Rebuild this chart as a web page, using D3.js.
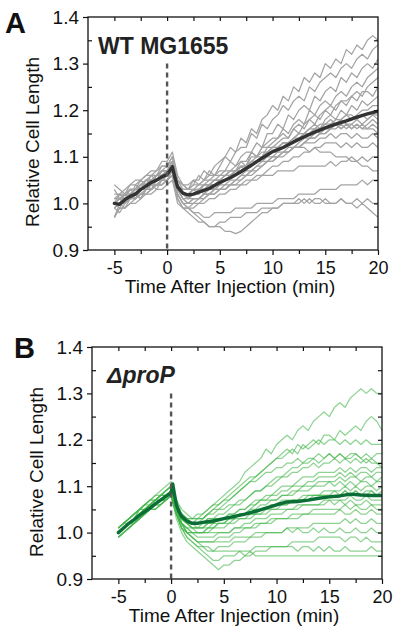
<!DOCTYPE html>
<html><head><meta charset="utf-8">
<script src="https://cdn.jsdelivr.net/npm/d3@7"></script>
<style>
html,body{margin:0;padding:0;background:#fff;}
svg{display:block;}
text{font-family:"Liberation Sans",Arial,sans-serif;}
</style></head>
<body>
<svg id="chart" width="400" height="637"></svg>
<script>
// ---------------- DATA ----------------
// sample times (min), every 0.5 min from -5 to 20
const timeMin = [-5,-4.5,-4,-3.5,-3,-2.5,-2,-1.5,-1,-0.5,0,0.5,1,1.5,2,2.5,3,3.5,4,4.5,5,5.5,6,6.5,7,7.5,8,8.5,9,9.5,10,10.5,11,11.5,12,12.5,13,13.5,14,14.5,15,15.5,16,16.5,17,17.5,18,18.5,19,19.5,20];

const xTicksMajor = [-5,0,5,10,15,20];
const yTicksMajor = [0.9,1.0,1.1,1.2,1.3,1.4];
const yTickLabels = ["0.9","1.0","1.1","1.2","1.3","1.4"];

// Panel A: WT MG1655 single-cell traces (relative cell length)
const wtTraces = [
 [1.00,1.02,1.01,1.03,1.02,1.04,1.05,1.04,1.06,1.07,1.08, 1.10,1.05,1.04,1.04,1.05,1.05,1.07,1.06,1.08,1.09, 1.10,1.12,1.11,1.14,1.13,1.16,1.15,1.18,1.19,1.21, 1.20,1.23,1.22,1.25,1.24,1.27,1.26,1.28,1.27,1.30, 1.29,1.31,1.30,1.33,1.32,1.34,1.33,1.35,1.36,1.35],
 [0.99,1.00,1.02,1.01,1.04,1.03,1.05,1.06,1.05,1.07,1.07, 1.08,1.04,1.03,1.03,1.04,1.06,1.05,1.07,1.06,1.08, 1.10,1.09,1.11,1.12,1.12,1.15,1.14,1.17,1.16,1.18, 1.19,1.21,1.20,1.22,1.23,1.22,1.25,1.24,1.26,1.27, 1.28,1.27,1.29,1.30,1.29,1.31,1.32,1.31,1.33,1.34],
 [1.03,1.01,1.02,1.03,1.03,1.05,1.04,1.06,1.06,1.08,1.08, 1.09,1.05,1.04,1.03,1.05,1.04,1.05,1.06,1.06,1.07, 1.07,1.09,1.08,1.10,1.11,1.11,1.13,1.12,1.15,1.15, 1.17,1.16,1.19,1.18,1.20,1.21,1.20,1.23,1.22,1.24, 1.25,1.24,1.27,1.26,1.28,1.27,1.29,1.30,1.29,1.31],
 [1.00,0.99,1.01,1.02,1.01,1.03,1.04,1.03,1.05,1.06,1.06, 1.08,1.03,1.02,1.02,1.03,1.02,1.04,1.04,1.05,1.05, 1.06,1.07,1.07,1.09,1.08,1.11,1.10,1.12,1.13,1.14, 1.14,1.16,1.15,1.17,1.18,1.17,1.20,1.19,1.21,1.22, 1.21,1.23,1.24,1.23,1.25,1.26,1.25,1.27,1.28,1.29],
 [0.97,1.00,0.99,1.01,1.02,1.01,1.03,1.04,1.03,1.05,1.06, 1.07,1.04,1.02,1.01,1.02,1.03,1.02,1.04,1.03,1.04, 1.05,1.06,1.06,1.08,1.07,1.09,1.10,1.10,1.12,1.12, 1.13,1.14,1.14,1.16,1.15,1.17,1.18,1.17,1.19,1.20, 1.19,1.21,1.22,1.21,1.23,1.24,1.23,1.25,1.26,1.27],
 [1.04,1.03,1.02,1.04,1.05,1.05,1.06,1.07,1.07,1.09,1.09, 1.11,1.06,1.04,1.03,1.04,1.04,1.05,1.05,1.06,1.06, 1.07,1.07,1.08,1.09,1.09,1.11,1.10,1.12,1.12,1.13, 1.14,1.15,1.14,1.16,1.17,1.16,1.18,1.19,1.18,1.20, 1.21,1.20,1.22,1.22,1.23,1.22,1.24,1.24,1.23,1.25],
 [1.00,1.01,1.01,1.02,1.03,1.04,1.04,1.05,1.06,1.06,1.07, 1.08,1.03,1.02,1.01,1.02,1.02,1.03,1.04,1.04,1.05, 1.05,1.06,1.07,1.07,1.08,1.09,1.09,1.10,1.11,1.11, 1.12,1.13,1.13,1.14,1.15,1.15,1.16,1.17,1.16,1.18, 1.19,1.18,1.20,1.19,1.21,1.20,1.22,1.21,1.22,1.23],
 [0.99,0.98,1.00,1.01,1.02,1.01,1.03,1.03,1.04,1.05,1.05, 1.07,1.03,1.01,1.00,1.01,1.01,1.02,1.03,1.03,1.04, 1.04,1.05,1.05,1.06,1.07,1.07,1.08,1.09,1.09,1.10, 1.10,1.11,1.12,1.12,1.13,1.14,1.14,1.15,1.16,1.16, 1.17,1.17,1.18,1.19,1.18,1.19,1.20,1.20,1.21,1.21],
 [1.00,1.01,1.00,1.02,1.01,1.03,1.03,1.04,1.04,1.05,1.06, 1.07,1.02,1.00,1.00,1.01,1.01,1.02,1.02,1.03,1.03, 1.04,1.04,1.05,1.06,1.06,1.07,1.08,1.08,1.09,1.09, 1.10,1.11,1.11,1.12,1.12,1.13,1.14,1.14,1.15,1.15, 1.16,1.16,1.17,1.16,1.17,1.18,1.17,1.18,1.19,1.19],
 [1.01,1.02,1.02,1.03,1.03,1.04,1.05,1.05,1.06,1.07,1.07, 1.09,1.04,1.02,1.02,1.02,1.03,1.03,1.04,1.04,1.04, 1.05,1.06,1.06,1.07,1.08,1.08,1.09,1.10,1.10,1.11, 1.11,1.12,1.13,1.13,1.14,1.14,1.15,1.16,1.15,1.16, 1.16,1.17,1.16,1.17,1.16,1.17,1.16,1.17,1.18,1.17],
 [0.97,0.99,0.99,1.00,1.01,1.02,1.02,1.03,1.04,1.04,1.05, 1.06,1.02,1.00,0.99,1.00,1.00,1.01,1.02,1.02,1.03, 1.03,1.04,1.05,1.05,1.06,1.07,1.07,1.08,1.09,1.09, 1.10,1.10,1.11,1.12,1.12,1.13,1.14,1.14,1.15,1.15, 1.16,1.17,1.16,1.17,1.16,1.17,1.16,1.16,1.17,1.16],
 [1.02,1.02,1.03,1.04,1.04,1.05,1.06,1.06,1.07,1.08,1.08, 1.10,1.05,1.03,1.03,1.03,1.04,1.04,1.05,1.05,1.05, 1.06,1.06,1.07,1.08,1.08,1.09,1.09,1.10,1.11,1.12, 1.12,1.13,1.13,1.14,1.15,1.15,1.16,1.16,1.17,1.17, 1.18,1.17,1.18,1.17,1.17,1.16,1.17,1.16,1.16,1.15],
 [1.00,1.00,1.01,1.01,1.02,1.03,1.03,1.04,1.05,1.05,1.06, 1.08,1.03,1.01,1.00,1.00,1.01,1.01,1.02,1.02,1.03, 1.03,1.04,1.04,1.05,1.06,1.06,1.07,1.08,1.09,1.10, 1.10,1.11,1.11,1.12,1.12,1.13,1.13,1.13,1.14,1.14, 1.15,1.14,1.15,1.15,1.14,1.15,1.14,1.14,1.15,1.14],
 [0.99,1.00,1.00,1.01,1.02,1.02,1.03,1.03,1.04,1.05,1.05, 1.07,1.02,1.00,0.99,0.99,1.00,1.00,1.01,1.01,1.02, 1.02,1.03,1.03,1.04,1.04,1.05,1.06,1.06,1.07,1.08, 1.08,1.09,1.09,1.10,1.10,1.11,1.11,1.12,1.12,1.13, 1.13,1.13,1.12,1.13,1.12,1.13,1.12,1.12,1.13,1.12],
 [1.00,1.01,1.01,1.02,1.03,1.03,1.04,1.05,1.05,1.06,1.07, 1.08,1.03,1.01,1.01,1.01,1.01,1.02,1.02,1.03,1.03, 1.03,1.04,1.04,1.04,1.05,1.05,1.05,1.06,1.06,1.06, 1.07,1.07,1.07,1.07,1.08,1.08,1.08,1.08,1.08,1.08, 1.09,1.08,1.09,1.09,1.10,1.09,1.10,1.09,1.10,1.10],
 [1.01,1.01,1.02,1.02,1.03,1.04,1.05,1.05,1.06,1.07,1.07, 1.09,1.04,1.02,1.02,1.03,1.03,1.04,1.04,1.05,1.05, 1.06,1.06,1.07,1.07,1.08,1.08,1.09,1.09,1.10,1.10, 1.11,1.11,1.11,1.12,1.12,1.12,1.11,1.12,1.11,1.11, 1.11,1.10,1.10,1.10,1.09,1.09,1.08,1.08,1.07,1.07],
 [0.99,1.00,1.00,1.01,1.01,1.02,1.03,1.03,1.04,1.04,1.05, 1.06,1.01,0.99,0.99,0.98,0.98,0.97,0.97,0.98,0.98, 0.98,0.98,0.99,0.99,0.99,0.99,1.00,1.00,1.00,1.00, 1.01,1.01,1.01,1.01,1.02,1.02,1.02,1.02,1.03,1.03, 1.03,1.03,1.04,1.04,1.04,1.04,1.05,1.04,1.05,1.05],
 [1.00,1.00,1.00,1.01,1.01,1.02,1.02,1.03,1.04,1.04,1.05, 1.06,1.01,0.99,0.99,0.98,0.97,0.96,0.95,0.95,0.95, 0.94,0.94,0.935,0.94,0.95,0.96,0.97,0.98,0.98,0.99, 0.99,1.00,1.00,1.00,1.01,1.00,1.01,1.00,1.00,1.01, 1.00,1.00,1.01,1.00,1.00,0.99,1.00,0.99,0.98,0.97],
 [0.97,0.99,0.99,1.00,1.00,1.01,1.02,1.02,1.03,1.03,1.04, 1.05,1.00,0.99,0.98,0.97,0.96,0.96,0.95,0.95,0.96, 0.96,0.97,0.97,0.97,0.98,0.98,0.98,0.99,0.99,0.99, 0.99,1.00,1.00,1.00,1.00,1.01,1.00,1.01,1.01,1.00, 1.00,1.00,1.01,1.00,1.00,1.01,1.00,1.01,1.00,1.00],
 [1.01,1.01,1.02,1.03,1.03,1.04,1.04,1.05,1.06,1.06,1.07, 1.08,1.04,1.02,1.02,1.03,1.03,1.04,1.04,1.05,1.06, 1.06,1.07,1.07,1.08,1.08,1.10,1.10,1.11,1.11,1.12, 1.12,1.13,1.13,1.14,1.14,1.15,1.15,1.16,1.16,1.17, 1.17,1.18,1.18,1.19,1.19,1.18,1.19,1.18,1.19,1.18]
];

const wtMeanTime = [-5,-4.5,-4,-3.5,-3,-2.5,-2,-1.5,-1,-0.5,0,0.25,0.5,0.75,1,1.5,2,2.5,3,4,5,6,7,8,9,10,11,12,13,14,15,16,17,18,19,20];
const wtMean = [1.000,0.998,1.008,1.015,1.020,1.030,1.037,1.045,1.050,1.057,1.062,1.070,1.079,1.055,1.035,1.022,1.018,1.020,1.024,1.032,1.045,1.055,1.068,1.082,1.097,1.111,1.120,1.132,1.143,1.153,1.162,1.170,1.177,1.185,1.192,1.198];

// Panel B: ΔproP single-cell traces
const propTraces = [
 [1.00,1.01,1.02,1.03,1.04,1.05,1.05,1.06,1.07,1.08,1.09, 1.06,1.04,1.03,1.03,1.04,1.04,1.05,1.06,1.07,1.08, 1.09,1.10,1.11,1.13,1.14,1.15,1.16,1.18,1.17,1.19, 1.20,1.21,1.20,1.22,1.23,1.22,1.24,1.25,1.26,1.25, 1.27,1.28,1.27,1.29,1.30,1.31,1.30,1.31,1.30,1.30],
 [1.01,1.02,1.03,1.04,1.05,1.06,1.07,1.07,1.08,1.09,1.10, 1.07,1.04,1.03,1.03,1.03,1.04,1.05,1.06,1.06,1.07, 1.08,1.09,1.10,1.11,1.12,1.12,1.13,1.14,1.15,1.16, 1.17,1.18,1.17,1.19,1.18,1.19,1.20,1.19,1.21,1.21, 1.20,1.22,1.21,1.22,1.23,1.22,1.24,1.25,1.24,1.22],
 [0.99,1.00,1.01,1.02,1.03,1.04,1.05,1.05,1.06,1.07,1.08, 1.05,1.03,1.02,1.02,1.02,1.03,1.04,1.05,1.05,1.06, 1.07,1.08,1.09,1.10,1.11,1.12,1.13,1.14,1.15,1.16, 1.16,1.17,1.18,1.17,1.19,1.18,1.19,1.20,1.19,1.20, 1.20,1.19,1.20,1.19,1.20,1.19,1.20,1.19,1.19,1.19],
 [1.00,1.01,1.02,1.02,1.03,1.04,1.05,1.06,1.07,1.08,1.09, 1.06,1.03,1.02,1.01,1.01,1.02,1.03,1.03,1.04,1.04, 1.05,1.06,1.06,1.07,1.08,1.09,1.09,1.10,1.11,1.12, 1.12,1.13,1.14,1.14,1.15,1.15,1.16,1.15,1.16,1.17, 1.16,1.17,1.16,1.17,1.17,1.16,1.17,1.16,1.17,1.17],
 [1.01,1.02,1.03,1.04,1.05,1.06,1.07,1.08,1.09,1.10,1.11, 1.07,1.05,1.04,1.03,1.03,1.03,1.04,1.04,1.05,1.05, 1.06,1.06,1.07,1.07,1.08,1.09,1.09,1.10,1.10,1.11, 1.12,1.12,1.13,1.13,1.14,1.14,1.15,1.14,1.15,1.15, 1.16,1.15,1.16,1.15,1.16,1.15,1.16,1.15,1.15,1.15],
 [1.00,1.01,1.02,1.03,1.04,1.05,1.06,1.06,1.07,1.08,1.09, 1.05,1.03,1.02,1.01,1.01,1.01,1.02,1.02,1.03,1.03, 1.04,1.04,1.05,1.05,1.06,1.07,1.07,1.08,1.08,1.09, 1.10,1.10,1.10,1.11,1.12,1.12,1.12,1.13,1.13,1.13, 1.13,1.14,1.13,1.14,1.13,1.14,1.14,1.13,1.14,1.14],
 [0.99,1.00,1.01,1.02,1.03,1.04,1.05,1.05,1.06,1.07,1.08, 1.04,1.02,1.01,1.00,1.00,1.00,1.01,1.01,1.02,1.02, 1.03,1.03,1.04,1.04,1.05,1.06,1.07,1.07,1.08,1.08, 1.09,1.09,1.10,1.10,1.10,1.11,1.11,1.12,1.12,1.12, 1.12,1.13,1.12,1.13,1.12,1.13,1.13,1.12,1.13,1.13],
 [1.00,1.01,1.02,1.03,1.05,1.05,1.06,1.07,1.08,1.09,1.10, 1.06,1.04,1.03,1.02,1.02,1.02,1.03,1.03,1.03,1.03, 1.04,1.04,1.05,1.05,1.06,1.06,1.07,1.07,1.07,1.07, 1.08,1.08,1.09,1.09,1.10,1.10,1.10,1.11,1.11,1.11, 1.11,1.12,1.11,1.12,1.12,1.11,1.12,1.12,1.11,1.12],
 [1.01,1.02,1.02,1.03,1.04,1.05,1.05,1.06,1.07,1.07,1.08, 1.05,1.03,1.02,1.02,1.01,1.01,1.02,1.02,1.03,1.03, 1.03,1.03,1.04,1.04,1.05,1.05,1.06,1.06,1.07,1.07, 1.08,1.08,1.08,1.09,1.09,1.09,1.10,1.10,1.10,1.11, 1.10,1.11,1.10,1.11,1.10,1.11,1.11,1.10,1.11,1.11],
 [1.00,1.01,1.02,1.03,1.04,1.05,1.06,1.07,1.07,1.08,1.09, 1.05,1.02,1.01,1.01,1.00,1.00,1.01,1.01,1.02,1.02, 1.03,1.03,1.04,1.04,1.04,1.04,1.05,1.05,1.06,1.06, 1.07,1.07,1.07,1.07,1.08,1.08,1.08,1.08,1.09,1.09, 1.09,1.09,1.10,1.09,1.10,1.09,1.10,1.10,1.09,1.10],
 [0.99,1.00,1.01,1.02,1.03,1.04,1.05,1.06,1.06,1.07,1.08, 1.04,1.02,1.00,1.00,1.00,1.00,1.00,1.01,1.01,1.01, 1.02,1.02,1.03,1.03,1.04,1.04,1.04,1.05,1.05,1.05, 1.06,1.06,1.07,1.07,1.07,1.08,1.08,1.08,1.08,1.08, 1.09,1.08,1.09,1.08,1.09,1.08,1.09,1.09,1.08,1.09],
 [1.01,1.02,1.03,1.04,1.05,1.06,1.07,1.08,1.08,1.09,1.10, 1.06,1.03,1.02,1.02,1.02,1.02,1.02,1.03,1.03,1.03, 1.03,1.03,1.04,1.04,1.04,1.05,1.05,1.05,1.06,1.06, 1.06,1.06,1.07,1.07,1.07,1.07,1.08,1.08,1.08,1.08, 1.08,1.08,1.09,1.08,1.09,1.08,1.08,1.09,1.08,1.08],
 [1.00,1.01,1.02,1.03,1.04,1.05,1.06,1.06,1.07,1.08,1.09, 1.05,1.02,1.00,1.00,0.99,0.99,0.99,0.99,1.00,1.00, 1.00,1.01,1.01,1.02,1.02,1.03,1.03,1.03,1.04,1.04, 1.04,1.05,1.05,1.05,1.06,1.06,1.06,1.06,1.07,1.07, 1.07,1.07,1.07,1.08,1.07,1.07,1.08,1.07,1.07,1.07],
 [1.00,1.01,1.02,1.03,1.04,1.05,1.06,1.07,1.07,1.08,1.09, 1.05,1.03,1.02,1.01,1.01,1.01,1.01,1.02,1.02,1.02, 1.02,1.03,1.03,1.03,1.03,1.04,1.04,1.04,1.05,1.05, 1.05,1.05,1.05,1.06,1.06,1.06,1.06,1.06,1.06,1.07, 1.06,1.07,1.06,1.07,1.06,1.06,1.07,1.06,1.06,1.06],
 [0.99,1.00,1.01,1.02,1.03,1.04,1.05,1.05,1.06,1.07,1.08, 1.04,1.01,1.00,0.99,0.98,0.98,0.98,0.98,0.99,0.99, 0.99,1.00,1.00,1.01,1.01,1.01,1.02,1.02,1.03,1.03, 1.03,1.03,1.04,1.04,1.04,1.04,1.05,1.05,1.05,1.05, 1.05,1.05,1.06,1.05,1.06,1.05,1.05,1.06,1.05,1.05],
 [1.01,1.02,1.03,1.04,1.05,1.06,1.07,1.07,1.08,1.09,1.10, 1.05,1.02,1.01,1.00,1.00,1.00,1.00,1.00,1.00,1.00, 1.00,1.01,1.01,1.01,1.01,1.02,1.02,1.02,1.02,1.03, 1.03,1.03,1.03,1.03,1.04,1.04,1.04,1.04,1.04,1.04, 1.04,1.05,1.04,1.04,1.05,1.04,1.04,1.05,1.04,1.04],
 [1.00,1.01,1.02,1.03,1.04,1.05,1.05,1.06,1.07,1.07,1.08, 1.04,1.01,0.99,0.98,0.97,0.97,0.96,0.96,0.97,0.97, 0.97,0.98,0.98,0.98,0.99,0.99,0.99,1.00,1.00,1.00, 1.00,1.01,1.01,1.01,1.01,1.01,1.02,1.02,1.02,1.02, 1.02,1.02,1.03,1.02,1.03,1.02,1.02,1.03,1.02,1.02],
 [1.00,1.01,1.02,1.03,1.05,1.05,1.06,1.07,1.08,1.08,1.09, 1.04,1.01,1.00,0.99,0.98,0.98,0.98,0.98,0.98,0.98, 0.98,0.99,0.99,0.99,0.99,1.00,1.00,1.00,1.00,1.00, 1.00,1.01,1.00,1.01,1.00,1.00,1.01,1.00,1.01,1.00, 1.00,1.01,1.00,1.00,1.01,1.00,1.00,1.01,1.00,1.00],
 [0.99,1.00,1.01,1.02,1.03,1.04,1.05,1.06,1.06,1.07,1.08, 1.03,1.00,0.98,0.97,0.96,0.95,0.94,0.93,0.92,0.93, 0.93,0.94,0.94,0.95,0.95,0.96,0.96,0.96,0.97,0.97, 0.97,0.97,0.98,0.98,0.98,0.98,0.98,0.99,0.99,0.99, 0.99,0.99,0.98,0.99,0.99,0.98,0.99,0.98,0.98,0.98],
 [1.00,1.01,1.02,1.03,1.04,1.05,1.05,1.06,1.07,1.07,1.08, 1.04,1.01,0.99,0.98,0.97,0.96,0.95,0.94,0.94,0.95, 0.95,0.95,0.96,0.96,0.96,0.97,0.97,0.97,0.97,0.97, 0.97,0.97,0.97,0.96,0.97,0.97,0.96,0.97,0.96,0.97, 0.96,0.96,0.97,0.96,0.96,0.96,0.96,0.97,0.96,0.96],
 [1.01,1.02,1.03,1.04,1.05,1.06,1.06,1.07,1.08,1.08,1.09, 1.05,1.02,1.00,0.99,0.98,0.97,0.97,0.96,0.96,0.96, 0.96,0.96,0.96,0.95,0.96,0.95,0.95,0.95,0.95,0.95, 0.95,0.95,0.95,0.95,0.95,0.95,0.95,0.95,0.95,0.95, 0.95,0.95,0.95,0.95,0.95,0.95,0.95,0.95,0.95,0.95],
 [1.00,1.01,1.02,1.03,1.04,1.05,1.06,1.07,1.08,1.08,1.09, 1.06,1.04,1.03,1.02,1.03,1.03,1.04,1.05,1.06,1.07, 1.07,1.08,1.09,1.10,1.11,1.11,1.12,1.13,1.13,1.14, 1.14,1.15,1.15,1.16,1.15,1.16,1.16,1.17,1.16,1.17, 1.16,1.17,1.16,1.16,1.17,1.16,1.15,1.16,1.15,1.14]
];

const propMeanTime = [-5,-4.5,-4,-3.5,-3,-2.5,-2,-1.5,-1,-0.5,0,0.15,0.3,0.5,0.75,1,1.5,2,2.5,3,4,5,6,7,8,9,10,11,12,13,14,15,16,17,18,19,20];
const propMean = [1.000,1.010,1.020,1.028,1.037,1.045,1.053,1.062,1.070,1.078,1.085,1.105,1.085,1.060,1.045,1.035,1.025,1.020,1.020,1.022,1.025,1.030,1.035,1.040,1.046,1.053,1.060,1.066,1.067,1.070,1.074,1.077,1.079,1.083,1.081,1.080,1.080];

// ---------------- DRAW ----------------
const svg = d3.select("#chart");

function panel(opts){
  const {x0,x1,y0,y1,traces,meanT,meanV,traceColor,traceOpacity,meanColor,letter,letterX,letterY,tag,tagX,tagY,tagItalic,ylabX,ylabY,id} = opts;
  const g = svg.append("g");
  const x = d3.scaleLinear().domain([-7.5,20]).range([x0,x1]);
  const y = d3.scaleLinear().domain([0.9,1.4]).range([y1,y0]);

  g.append("clipPath").attr("id",id).append("rect")
    .attr("x",x0).attr("y",y0).attr("width",x1-x0).attr("height",y1-y0);

  const line = d3.line().x((d,i)=>x(timeMin[i])).y(d=>y(d));
  const pg = g.append("g").attr("clip-path",`url(#${id})`);
  pg.selectAll("path.tr").data(traces).join("path")
    .attr("class","tr").attr("d",line)
    .attr("fill","none").attr("stroke",traceColor).attr("stroke-opacity",traceOpacity)
    .attr("stroke-width",1.25).attr("stroke-linejoin","round");

  // dashed injection line
  g.append("line").attr("x1",x(0)).attr("x2",x(0)).attr("y1",y(1.3)).attr("y2",y1)
    .attr("stroke","#555").attr("stroke-width",2.4).attr("stroke-dasharray","5,4");

  const mline = d3.line().x((d,i)=>x(meanT[i])).y(d=>y(d));
  pg.append("path").datum(meanV).attr("d",mline).attr("fill","none")
    .attr("stroke",meanColor).attr("stroke-width",3.4).attr("stroke-linejoin","round").attr("stroke-linecap","round");

  // frame
  g.append("rect").attr("x",x0).attr("y",y0).attr("width",x1-x0).attr("height",y1-y0)
    .attr("fill","none").attr("stroke","#111").attr("stroke-width",1.3);

  const minorX = [-5,-2.5,0,2.5,5,7.5,10,12.5,15,17.5];
  const minorY = [0.95,1.05,1.15,1.25,1.35];
  const allY = [0.95,1.0,1.05,1.1,1.15,1.2,1.25,1.3,1.35];

  const styleAxis = sel => { sel.select(".domain").remove(); sel.selectAll("line").attr("stroke","#111").attr("stroke-width",1.2); };

  g.append("g").attr("transform",`translate(0,${y1})`)
    .call(d3.axisBottom(x).tickValues(xTicksMajor).tickSize(5).tickPadding(6).tickFormat(d=>d))
    .call(styleAxis)
    .selectAll("text").attr("font-size",18).attr("fill","#111").attr("font-family","Liberation Sans, Arial, sans-serif");
  g.append("g").attr("transform",`translate(0,${y1})`)
    .call(d3.axisBottom(x).tickValues(minorX.filter(v=>!xTicksMajor.includes(v))).tickSize(4).tickFormat(""))
    .call(styleAxis);
  g.append("g").attr("transform",`translate(0,${y0})`)
    .call(d3.axisTop(x).tickValues(minorX).tickSize(-4).tickFormat(""))
    .call(styleAxis);
  g.append("g").attr("transform",`translate(${x0},0)`)
    .call(d3.axisLeft(y).tickValues(yTicksMajor).tickSize(5).tickPadding(4).tickFormat((d,i)=>yTickLabels[i]))
    .call(styleAxis)
    .selectAll("text").attr("font-size",19).attr("fill","#111").attr("font-family","Liberation Sans, Arial, sans-serif");
  g.append("g").attr("transform",`translate(${x0},0)`)
    .call(d3.axisLeft(y).tickValues(minorY).tickSize(-4).tickFormat(""))
    .call(styleAxis);
  g.append("g").attr("transform",`translate(${x1},0)`)
    .call(d3.axisRight(y).tickValues(allY).tickSize(-4).tickFormat(""))
    .call(styleAxis);

  g.append("text").attr("x",(x0+x1)/2 - 3).attr("y",y1+43).attr("text-anchor","middle")
    .attr("font-size",19).attr("fill","#111").text("Time After Injection (min)");
  g.append("text").attr("transform",`translate(${ylabX},${ylabY}) rotate(-90)`).attr("text-anchor","middle")
    .attr("font-size",19).attr("fill","#111").text("Relative Cell Length");

  g.append("text").attr("x",letterX).attr("y",letterY).attr("font-size",29).attr("font-weight","bold")
    .attr("fill","#111").text(letter);
  g.append("text").attr("x",tagX).attr("y",tagY).attr("font-size",23).attr("font-weight","bold")
    .attr("font-style",tagItalic?"italic":"normal").attr("fill","#222").text(tag);
}

panel({id:"clipA",x0:88,x1:378,y0:17,y1:250,traces:wtTraces,meanT:wtMeanTime,meanV:wtMean,
  traceColor:"#a3a3a3",traceOpacity:1,meanColor:"#333333",letter:"A",letterX:5,letterY:33,
  tag:"WT MG1655",tagX:98,tagY:54,tagItalic:false,ylabX:39,ylabY:142});
panel({id:"clipB",x0:92,x1:382,y0:347,y1:579,traces:propTraces,meanT:propMeanTime,meanV:propMean,
  traceColor:"#43b649",traceOpacity:0.6,meanColor:"#0b6e36",letter:"B",letterX:14,letterY:358,
  tag:"ΔproP",tagX:107,tagY:383,tagItalic:true,ylabX:43,ylabY:472});
</script>
</body></html>
